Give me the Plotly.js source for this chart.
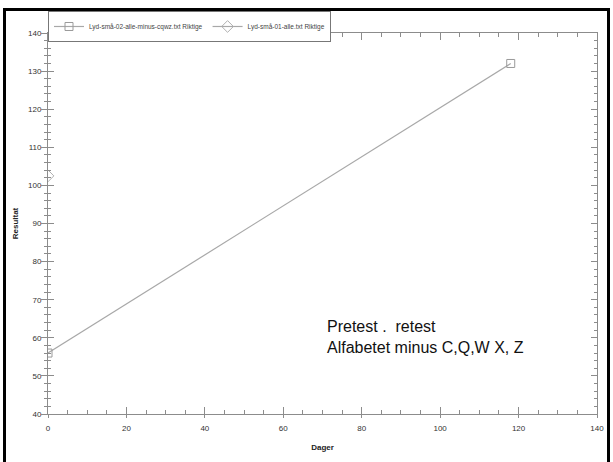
<!DOCTYPE html>
<html><head><meta charset="utf-8">
<script src="https://cdn.plot.ly/plotly-3.0.1.min.js"></script>
<style>html,body{margin:0;padding:0;background:#fff}
#wrap{position:relative;width:613px;height:462px}
#chart{width:613px;height:462px}
#frame{position:absolute;left:3px;top:8px;width:601px;height:460px;border-left:3px solid #000;border-top:3px solid #000;border-right:3px solid #000;pointer-events:none}
</style>
</head><body><div id="wrap"><div id="chart"></div><div id="frame"></div></div>
<script>
const series1Name = "Lyd-små-02-alle-minus-cqwz.txt Riktige";
const series1X = [0, 118];
const series1Y = [56, 132];
const series2Name = "Lyd-små-01-alle.txt Riktige";
const series2X = [0];
const series2Y = [102.5];
const xTitle = "Dager";
const yTitle = "Resultat";
const noteText = "Pretest .  retest<br>Alfabetet minus C,Q,W X, Z";

const axisCol = '#8c8c8c';
const tickFont = {family: 'Liberation Sans, Arial, sans-serif', size: 8, color: '#333'};

const traces = [
  {x: series1X, y: series1Y, name: series1Name, mode: 'lines+markers', type: 'scatter',
   line: {color: '#a8a8a8', width: 1.2},
   marker: {symbol: 'square-open', size: 8, color: '#9a9a9a', line: {width: 1}}},
  {x: series2X, y: series2Y, name: series2Name, mode: 'lines+markers', type: 'scatter',
   line: {color: '#a8a8a8', width: 1.2},
   marker: {symbol: 'diamond-open', size: 9, color: '#b0b0b0', line: {width: 1}}},
  {x: [null], y: [null], xaxis: 'x2', yaxis: 'y2', showlegend: false, hoverinfo: 'skip'}
];

const layout = {
  width: 613, height: 462,
  margin: {l: 48, r: 16, t: 32, b: 48},
  paper_bgcolor: '#fff', plot_bgcolor: '#fff',
  showlegend: true,
  legend: {orientation: 'h', x: 0.0, y: 1.055, xanchor: 'left', yanchor: 'top',
    font: {family: 'Liberation Sans, Arial, sans-serif', size: 6.5, color: '#444'},
    bordercolor: '#777', borderwidth: 1, bgcolor: '#fff', itemwidth: 30, tracegroupgap: 0},
  xaxis: {range: [0, 140], dtick: 20, showgrid: false, zeroline: false,
    showline: true, linecolor: axisCol, linewidth: 1, mirror: 'ticks',
    ticks: 'inside', ticklen: 7, tickcolor: axisCol, tickwidth: 1,
    minor: {ticks: 'inside', dtick: 5, ticklen: 4, tickcolor: axisCol, tickwidth: 1},
    tickfont: tickFont, ticklabelstandoff: 6,
    title: {text: '<b>' + xTitle + '</b>', font: {family: 'Liberation Sans, Arial, sans-serif', size: 8, color: '#222'}, standoff: 12}},
  yaxis: {range: [40, 140], dtick: 10, showgrid: false, zeroline: false,
    showline: true, linecolor: axisCol, linewidth: 1, mirror: 'ticks',
    ticks: 'inside', ticklen: 6, tickcolor: axisCol, tickwidth: 1,
    minor: {ticks: 'inside', dtick: 2, ticklen: 3, tickcolor: axisCol, tickwidth: 1},
    tickfont: tickFont, ticklabelstandoff: 4,
    title: {text: '<b>' + yTitle + '</b>', font: {family: 'Liberation Sans, Arial, sans-serif', size: 8, color: '#222'}, standoff: 8}},
  xaxis2: {overlaying: 'x', range: [0, 140], dtick: 20, showgrid: false, zeroline: false,
    showline: false, ticks: 'outside', ticklen: 3, tickcolor: axisCol, showticklabels: false,
    side: 'bottom', anchor: 'y2'},
  yaxis2: {overlaying: 'y', range: [40, 140], dtick: 10, showgrid: false, zeroline: false,
    showline: false, ticks: 'outside', ticklen: 6, tickcolor: axisCol, showticklabels: false,
    minor: {ticks: 'outside', dtick: 2, ticklen: 3, tickcolor: axisCol},
    side: 'left', anchor: 'x2'},
  annotations: [{xref: 'paper', yref: 'paper', x: 0.504, y: 0.203, xanchor: 'left', yanchor: 'middle',
    text: noteText, showarrow: false, align: 'left',
    font: {family: 'Liberation Sans, Arial, sans-serif', size: 16, color: '#111'}}]
};

Plotly.newPlot('chart', traces, layout, {displayModeBar: false, staticPlot: true});
</script></body></html>
